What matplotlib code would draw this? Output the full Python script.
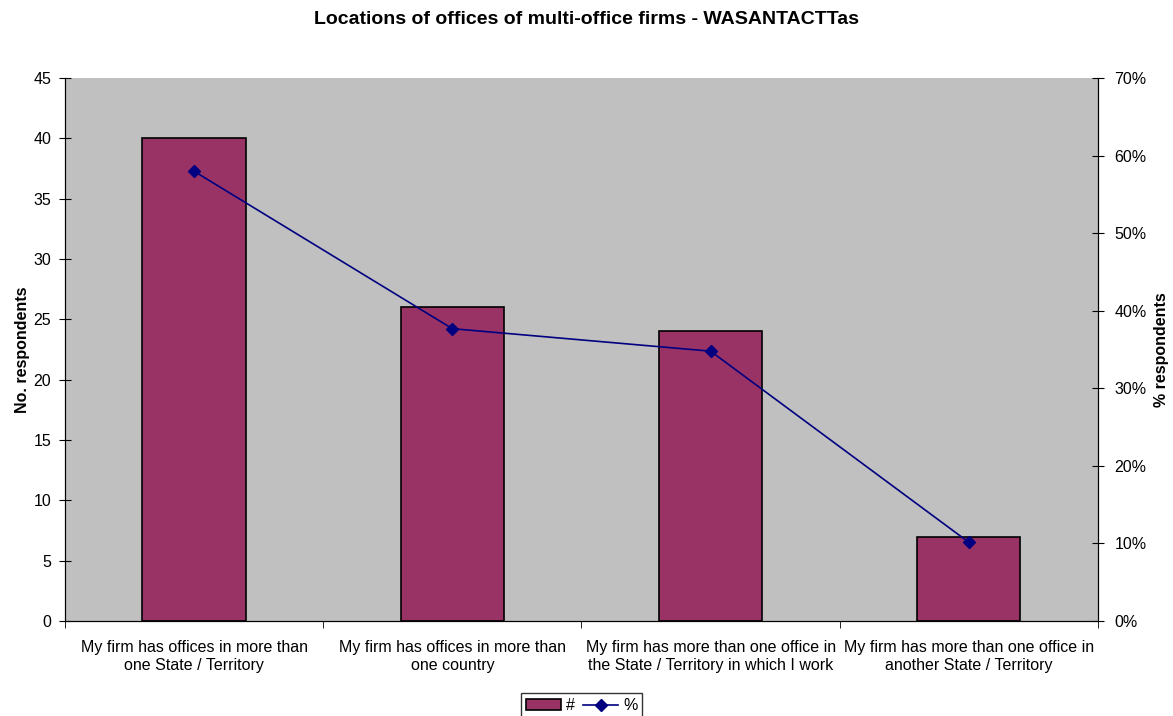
import numpy as np
import matplotlib
matplotlib.use("Agg")
import matplotlib.pyplot as plt
from matplotlib.ticker import FuncFormatter

plt.rcParams["font.family"] = ["Liberation Sans", "DejaVu Sans"]

categories = [
    "My firm has offices in more than\none State / Territory",
    "My firm has offices in more than\none country",
    "My firm has more than one office in\nthe State / Territory in which I work",
    "My firm has more than one office in\nanother State / Territory",
]
counts = [40, 26, 24, 7]
total_respondents = 69
pct = [c / total_respondents for c in counts]

fs = 11.5

fig = plt.figure(figsize=(11.73, 7.16), dpi=100)
ax = fig.add_axes([0.0554, 0.1327, 0.8806, 0.7584])
ax.set_facecolor("#c0c0c0")

x = np.arange(len(categories))
bars = ax.bar(x, counts, width=0.4, color="#993366", edgecolor="black", lw=1.2, label="#", zorder=2)
ax.set_xlim(-0.5, len(categories) - 0.5)
ax.set_ylim(0, 45)
ax.set_yticks(range(0, 46, 5))
ax.set_xticks(x)
ax.set_xticklabels(categories, fontsize=fs, linespacing=1.25)
ax.set_xticks(np.arange(-0.5, len(categories), 1), minor=True)
ax.tick_params(axis="x", which="major", length=0, pad=14)
ax.tick_params(axis="x", which="minor", length=5, direction="out")
ax.tick_params(axis="y", direction="inout", length=8, labelsize=fs, pad=6)
ax.set_ylabel("No. respondents", fontsize=fs, fontweight="bold", labelpad=2)
ax.spines["top"].set_visible(False)

ax2 = ax.twinx()
line, = ax2.plot(x, pct, color="#000080", lw=1.2, marker="D", markersize=6, label="%", zorder=3)
ax2.set_ylim(0, 0.7)
ax2.set_yticks(np.arange(0, 0.71, 0.1))
ax2.yaxis.set_major_formatter(FuncFormatter(lambda v, p: f"{v*100:.0f}%"))
ax2.tick_params(axis="y", direction="inout", length=8, labelsize=fs, pad=8)
ax2.set_ylabel("% respondents", fontsize=fs, fontweight="bold", labelpad=5)
ax2.spines["top"].set_visible(False)

fig.suptitle("Locations of offices of multi-office firms - WASANTACTTas",
             fontsize=14, fontweight="bold", y=0.985)

leg = fig.legend([bars, line], ["#", "%"], loc="lower center", bbox_to_anchor=(0.496, -0.014),
                 ncol=2, frameon=True, fancybox=False, edgecolor="black", fontsize=fs,
                 handlelength=2.2, handletextpad=0.3, columnspacing=0.5, borderpad=0.3)
leg.get_frame().set_linewidth(1.0)

fig.savefig("out.png", dpi=100)
